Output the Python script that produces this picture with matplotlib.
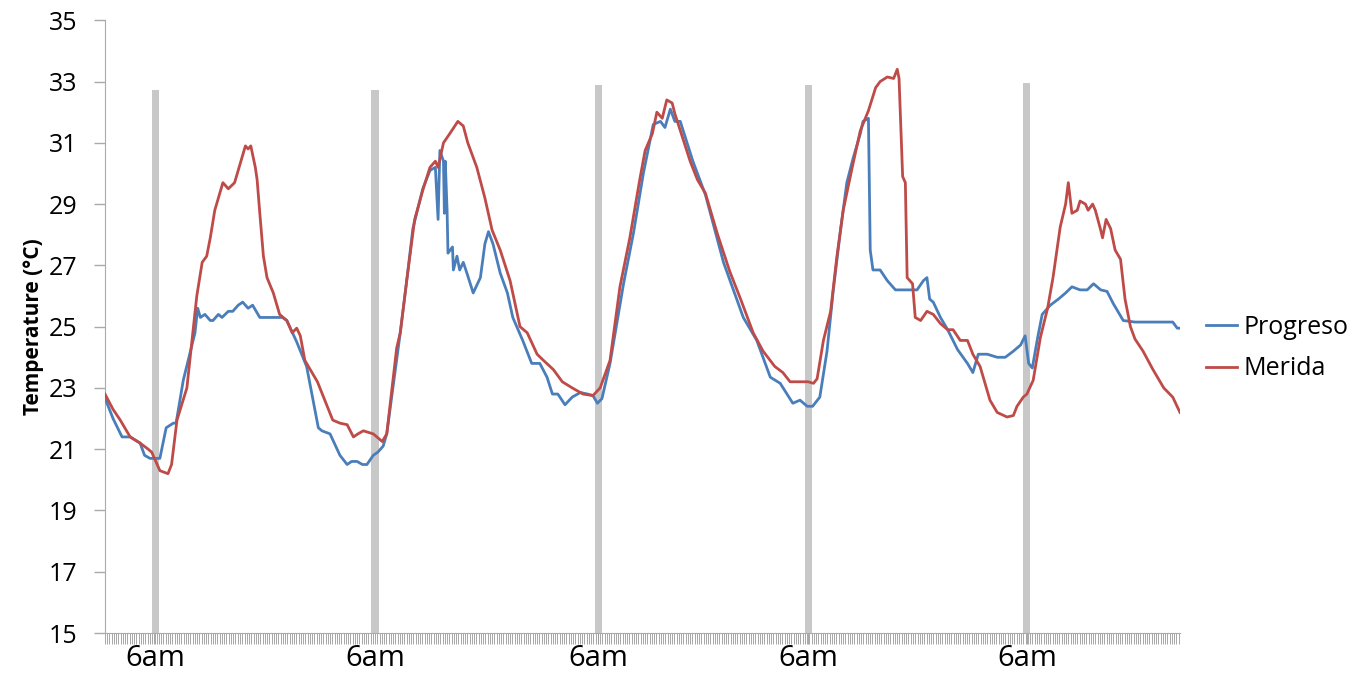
import matplotlib
matplotlib.use("Agg")
import matplotlib.pyplot as plt
import numpy as np

# ---- data (hours from start of record, temperature in °C) ----
progreso_t = [0.0, 0.9, 1.9, 2.8, 3.9, 4.4, 5.0, 5.6, 6.1, 6.8, 7.6, 7.9, 8.7, 10.0, 10.3, 10.6,
              11.1, 11.7, 12.0, 12.6, 13.0, 13.7, 14.2, 14.8, 15.3, 15.9, 16.4, 17.2, 18.3, 19.7,
              20.2, 21.3, 22.4, 23.7, 24.1, 25.0, 26.1, 26.9, 27.4, 28.0, 28.6, 29.1, 29.8, 30.3,
              30.9, 31.3, 32.8, 33.6, 34.2, 35.3, 36.1, 36.7, 37.0, 37.2, 37.6, 37.7, 37.8, 38.0,
              38.1, 38.6, 38.7, 39.1, 39.4, 39.8, 40.2, 40.9, 41.7, 42.2, 42.6, 43.1, 43.9, 44.7,
              45.3, 46.4, 47.4, 48.3, 49.1, 49.7, 50.3, 51.1, 51.9, 52.8, 53.6, 54.2, 54.7, 55.2,
              56.1, 57.6, 58.7, 59.8, 60.9, 61.7, 62.2, 62.8, 63.3, 63.9, 65.3, 66.7, 68.7, 70.9,
              72.4, 73.9, 75.0, 76.4, 77.2, 78.0, 78.6, 79.4, 80.2, 80.9, 81.7, 82.4, 83.1, 83.9,
              84.2, 84.8, 85.0, 85.3, 86.1, 86.9, 87.8, 88.9, 90.2, 90.9, 91.3, 91.6, 92.0, 92.8,
              93.6, 94.7, 95.8, 96.4, 97.0, 98.0, 99.1, 100.0, 100.9, 101.7, 102.2, 102.6, 103.0,
              103.6, 104.1, 105.0, 105.9, 106.7, 107.4, 108.3, 109.1, 109.8, 110.6, 111.3, 112.0,
              113.1, 114.4, 115.8, 118.6, 119.1, 119.4]
progreso_temp = [22.67, 22.0, 21.4, 21.4, 21.2, 20.8, 20.7, 20.7, 20.7, 21.7, 21.85, 21.85, 23.25,
                 24.8, 25.6, 25.3, 25.4, 25.2, 25.2, 25.4, 25.3, 25.5, 25.5, 25.7, 25.8, 25.6, 25.7,
                 25.3, 25.3, 25.3, 25.2, 24.5, 23.7, 21.7, 21.6, 21.5, 20.8, 20.5, 20.6, 20.6, 20.5,
                 20.5, 20.8, 20.9, 21.1, 21.5, 24.8, 26.7, 28.2, 29.5, 30.1, 30.2, 28.5, 30.75, 30.4,
                 28.7, 30.4, 28.8, 27.4, 27.6, 26.85, 27.3, 26.85, 27.1, 26.75, 26.1, 26.6, 27.7,
                 28.1, 27.7, 26.75, 26.1, 25.3, 24.55, 23.8, 23.8, 23.35, 22.8, 22.8, 22.45, 22.7,
                 22.85, 22.8, 22.75, 22.5, 22.65, 23.8, 26.4, 28.05, 30.0, 31.6, 31.7, 31.5, 32.1,
                 31.7, 31.7, 30.4, 29.3, 27.1, 25.3, 24.55, 23.35, 23.15, 22.5, 22.6, 22.4, 22.4,
                 22.7, 24.2, 26.2, 28.15, 29.7, 30.5, 31.3, 31.7, 31.8, 27.5, 26.85, 26.85, 26.5,
                 26.2, 26.2, 26.2, 26.5, 26.6, 25.9, 25.8, 25.3, 24.9, 24.25, 23.8, 23.5, 24.1, 24.1,
                 24.0, 24.0, 24.2, 24.4, 24.7, 23.8, 23.65, 24.65, 25.4, 25.7, 25.9, 26.1, 26.3,
                 26.2, 26.2, 26.4, 26.2, 26.15, 25.75, 25.2, 25.15, 25.15, 25.15, 24.95, 24.95]

merida_t = [0.0, 0.9, 1.7, 2.8, 3.9, 4.8, 5.2, 6.1, 7.0, 7.4, 8.0, 9.1, 10.2, 10.8, 11.3, 11.7,
            12.2, 13.1, 13.7, 14.4, 15.0, 15.6, 15.9, 16.2, 16.7, 16.9, 17.2, 17.6, 18.0, 18.7,
            19.4, 20.2, 20.8, 21.3, 21.7, 22.2, 23.6, 25.3, 26.1, 26.9, 27.6, 28.1, 28.7, 29.8,
            30.8, 31.3, 32.4, 32.8, 33.6, 34.4, 35.3, 36.1, 36.7, 37.0, 37.6, 38.3, 39.2, 39.8,
            40.3, 41.3, 42.2, 43.0, 43.9, 45.0, 46.1, 46.9, 48.0, 48.7, 49.8, 50.8, 51.9, 53.1,
            54.2, 55.0, 56.1, 57.2, 58.3, 59.4, 60.0, 60.8, 61.3, 61.9, 62.4, 63.0, 63.3, 63.9,
            65.0, 65.8, 66.7, 68.0, 69.4, 70.6, 72.0, 73.1, 74.4, 75.3, 76.1, 78.1, 78.7, 79.1,
            79.8, 80.6, 81.3, 82.0, 83.0, 83.9, 84.8, 85.6, 86.1, 86.9, 87.6, 88.0, 88.2, 88.6,
            88.9, 89.1, 89.7, 90.0, 90.6, 91.3, 92.0, 92.8, 93.6, 94.2, 95.0, 95.8, 96.4, 97.2,
            98.3, 99.1, 100.2, 100.9, 101.3, 102.0, 102.4, 103.1, 103.9, 104.7, 105.3, 106.1,
            106.7, 107.0, 107.4, 108.0, 108.3, 108.9, 109.2, 109.7, 110.0, 110.6, 110.8, 111.2,
            111.7, 112.2, 112.8, 113.3, 113.9, 114.4, 115.3, 116.4, 117.6, 118.6, 119.4]
merida_temp = [22.8, 22.3, 21.95, 21.4, 21.2, 21.0, 20.9, 20.3, 20.2, 20.5, 21.95, 23.0, 26.0,
               27.1, 27.3, 27.9, 28.8, 29.7, 29.5, 29.7, 30.3, 30.9, 30.8, 30.9, 30.2, 29.8, 28.7,
               27.3, 26.6, 26.1, 25.4, 25.2, 24.8, 24.95, 24.7, 23.9, 23.2, 21.95, 21.85, 21.8,
               21.4, 21.5, 21.6, 21.5, 21.25, 21.5, 24.3, 24.8, 26.7, 28.5, 29.45, 30.2, 30.4,
               30.2, 31.0, 31.3, 31.7, 31.55, 31.0, 30.2, 29.2, 28.15, 27.5, 26.5, 25.0, 24.8,
               24.1, 23.9, 23.6, 23.2, 23.0, 22.8, 22.75, 23.0, 23.9, 26.3, 27.9, 29.8, 30.75,
               31.3, 32.0, 31.8, 32.4, 32.3, 31.95, 31.4, 30.4, 29.8, 29.35, 28.05, 26.8, 25.9,
               24.8, 24.2, 23.7, 23.5, 23.2, 23.2, 23.15, 23.3, 24.55, 25.5, 27.3, 28.8, 30.2,
               31.4, 32.05, 32.8, 33.0, 33.15, 33.1, 33.4, 33.1, 29.9, 29.7, 26.6, 26.4, 25.3,
               25.2, 25.5, 25.4, 25.1, 24.9, 24.9, 24.55, 24.55, 24.1, 23.7, 22.6, 22.2, 22.05,
               22.1, 22.4, 22.7, 22.8, 23.25, 24.65, 25.6, 26.6, 28.25, 29.0, 29.7, 28.7, 28.8,
               29.1, 29.0, 28.8, 29.0, 28.8, 28.15, 27.9, 28.5, 28.2, 27.5, 27.2, 25.9, 25.0,
               24.6, 24.2, 23.6, 23.0, 22.7, 22.2]

six_am_t = [5.6, 30.0, 54.8, 78.1, 102.4]
six_am_top = [32.72, 32.72, 32.88, 32.88, 32.94]
six_am_labels = ["6am", "6am", "6am", "6am", "6am"]

plt.rcParams['font.family'] = ['Open Sans', 'DejaVu Sans']

fig = plt.figure(figsize=(13.63, 6.76), dpi=100)
ax = fig.add_axes([0.077, 0.0636, 0.7887, 0.9064])

ymin, ymax = 15, 35
# gray 6am marker bars
ax.bar(six_am_t, np.array(six_am_top) - ymin, bottom=ymin, width=0.8,
       color='#c8c8c8', zorder=1, linewidth=0)

ax.plot(progreso_t, progreso_temp, color='#4a7ebb', lw=2.0, label='Progreso', zorder=3,
        solid_joinstyle='round')
ax.plot(merida_t, merida_temp, color='#be4b48', lw=2.0, label='Merida', zorder=3,
        solid_joinstyle='round')

ax.set_xlim(0, 119.4)
ax.set_ylim(ymin, ymax)
ax.set_yticks(np.arange(15, 36, 2))
ax.tick_params(axis='y', labelsize=18, length=8, width=1, color='#aaaaaa', pad=12, direction='out')

ax.set_xticks(six_am_t)
ax.set_xticklabels(six_am_labels)
ax.set_xticks(np.arange(0, 119.4, 0.25), minor=True)
ax.tick_params(axis='x', which='major', labelsize=21, length=8, width=0.6, color='#999999', pad=0)
ax.tick_params(axis='x', which='minor', length=8, width=0.6, color='#999999')

for s in ['top', 'right']:
    ax.spines[s].set_visible(False)
ax.spines['left'].set_color('#aaaaaa')
ax.spines['bottom'].set_color('#aaaaaa')

ax.set_ylabel('Temperature (°C)', fontsize=15, fontweight='bold', labelpad=3)

fig.legend(loc='center left', bbox_to_anchor=(0.868, 0.485), frameon=False, fontsize=18,
           handlelength=1.25, handletextpad=0.25, labelspacing=0.65)

fig.savefig('out.png', dpi=100)
